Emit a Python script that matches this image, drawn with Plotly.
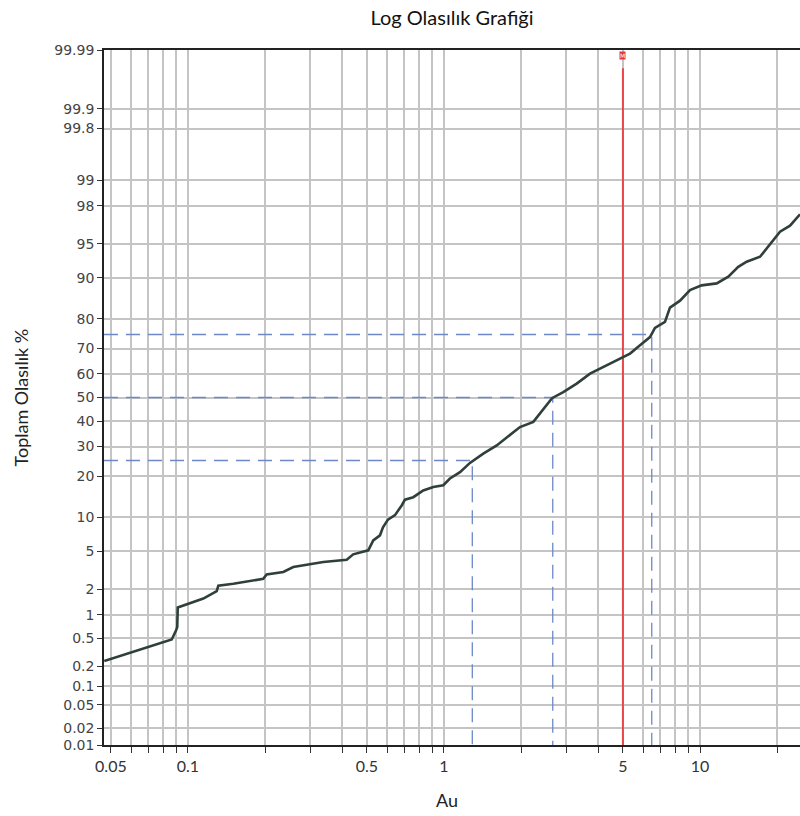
import plotly.graph_objects as go
from statistics import NormalDist

# ---- data ----
au = [0.0471, 0.0864, 0.0898, 0.0908, 0.0912, 0.1018, 0.1148, 0.1295, 0.1314, 0.1503,
      0.1968, 0.2029, 0.2357, 0.2578, 0.2996, 0.3378, 0.4169, 0.4421, 0.5061, 0.5293,
      0.5623, 0.5777, 0.6042, 0.6436, 0.6835, 0.7041, 0.7586, 0.8300, 0.9083, 0.9938,
      1.055, 1.155, 1.263, 1.424, 1.607, 1.811, 1.981, 2.233, 2.371, 2.519,
      2.642, 2.924, 3.299, 3.719, 4.321, 4.945, 5.329, 5.831, 6.377, 6.670,
      7.297, 7.633, 8.356, 9.141, 10.15, 11.62, 12.90, 14.11, 15.22, 17.16,
      18.22, 19.33, 20.54, 22.47, 24.58]
cum_pct = [0.24, 0.48, 0.63, 0.70, 1.23, 1.37, 1.57, 1.91, 2.20, 2.31,
           2.62, 2.92, 3.09, 3.48, 3.68, 3.91, 4.13, 4.66, 5.09, 6.31,
           7.01, 8.23, 9.56, 10.4, 12.4, 13.7, 14.3, 16.0, 16.9, 17.4,
           19.3, 21.2, 24.2, 27.4, 30.4, 34.3, 37.6, 39.7, 43.2, 46.7,
           49.7, 52.3, 55.9, 60.1, 63.5, 66.5, 68.1, 71.2, 74.1, 77.2,
           79.1, 83.2, 85.0, 87.5, 88.5, 88.9, 90.2, 91.9, 92.7, 93.4,
           94.5, 95.4, 96.2, 96.7, 97.5]

quart_pct = [25, 50, 75]
quart_au = [1.29, 2.66, 6.48]

marker_au = 5.0
marker_label = "M"

y_tick_labels = ["0.01", "0.02", "0.05", "0.1", "0.2", "0.5", "1", "2", "5", "10", "20",
                 "30", "40", "50", "60", "70", "80", "90", "95", "98", "99", "99.8",
                 "99.9", "99.99"]
x_tick_vals = [0.05, 0.06, 0.07, 0.08, 0.09, 0.1, 0.2, 0.3, 0.4, 0.5, 0.6, 0.7, 0.8, 0.9,
               1, 2, 3, 4, 5, 6, 7, 8, 9, 10, 20]
x_labelled = {0.05: "0.05", 0.1: "0.1", 0.5: "0.5", 1: "1", 5: "5", 10: "10"}

title = "Log Olasılık Grafiği"
x_title = "Au"
y_title = "Toplam Olasılık %"

# ---- probability scale ----
nd = NormalDist()


def z(p):
    return nd.inv_cdf(p / 100.0)


y_lo, y_hi = z(0.01), z(99.99)
x_range = [-1.328, 1.3906]
x_left = 10 ** x_range[0]

fig = go.Figure()

grid_c = "#c4c4c4"
dash_c = "#6d88c9"

# quartile guide lines
for p, a in zip(quart_pct, quart_au):
    fig.add_trace(go.Scatter(
        x=[x_left, a, a], y=[z(p), z(p), y_lo], mode="lines",
        line=dict(color=dash_c, width=1.3, dash="14px,8px"),
        hoverinfo="skip", showlegend=False))

# marker line
fig.add_trace(go.Scatter(
    x=[marker_au, marker_au], y=[y_lo, 3.525], mode="lines",
    line=dict(color="#e8474a", width=2), hoverinfo="skip", showlegend=False))

# cumulative curve
fig.add_trace(go.Scatter(
    x=au, y=[z(p) for p in cum_pct], mode="lines",
    line=dict(color="#2f403c", width=2.6), showlegend=False))

fig.add_annotation(x=0.699, y=0.998, xref="x", yref="paper", text=marker_label,
                   showarrow=False, yanchor="top", xanchor="center",
                   font=dict(size=6, color="#ffffff", family="DejaVu Sans"),
                   bgcolor="#e23a3a", borderpad=0)

fig.add_annotation(x=-84 / 696, y=0.5, xref="paper", yref="paper", text=y_title,
                   showarrow=False, textangle=-90, xanchor="center", yanchor="middle",
                   font=dict(size=18, color="#222", family="Lato"))
fig.add_annotation(x=(447 - 104) / 696, y=-55 / 695, xref="paper", yref="paper",
                   text=x_title, showarrow=False, xanchor="center", yanchor="middle",
                   font=dict(size=18, color="#222", family="Lato"))

fig.update_layout(
    width=800, height=816,
    margin=dict(l=104, r=0, t=50, b=71),
    paper_bgcolor="white", plot_bgcolor="white",
    title=dict(text=title, x=452 / 800, xanchor="center", y=1 - 18 / 816,
               yanchor="middle", yref="container",
               font=dict(size=20, color="#111", family="Lato")),
    xaxis=dict(type="log", range=x_range,
               tickvals=x_tick_vals,
               ticktext=[x_labelled.get(v, "") for v in x_tick_vals],
               ticks="outside", ticklen=6, tickwidth=1, tickcolor="#333",
               showgrid=True, gridcolor=grid_c, gridwidth=1.5,
               showline=True, linecolor="#222", linewidth=1.6, mirror=True,
               zeroline=False,
               tickfont=dict(size=16, color="#333", family="Lato")),
    yaxis=dict(range=[y_lo, y_hi],
               tickvals=[z(float(t)) for t in y_tick_labels],
               ticktext=y_tick_labels,
               ticks="outside", ticklen=5, tickwidth=1, tickcolor="#333",
               showgrid=True, gridcolor=grid_c, gridwidth=1.5,
               showline=True, linecolor="#222", linewidth=1.6,
               zeroline=False,
               tickfont=dict(size=14, color="#444", family="DejaVu Sans")),
)

fig.write_html("out.html")
